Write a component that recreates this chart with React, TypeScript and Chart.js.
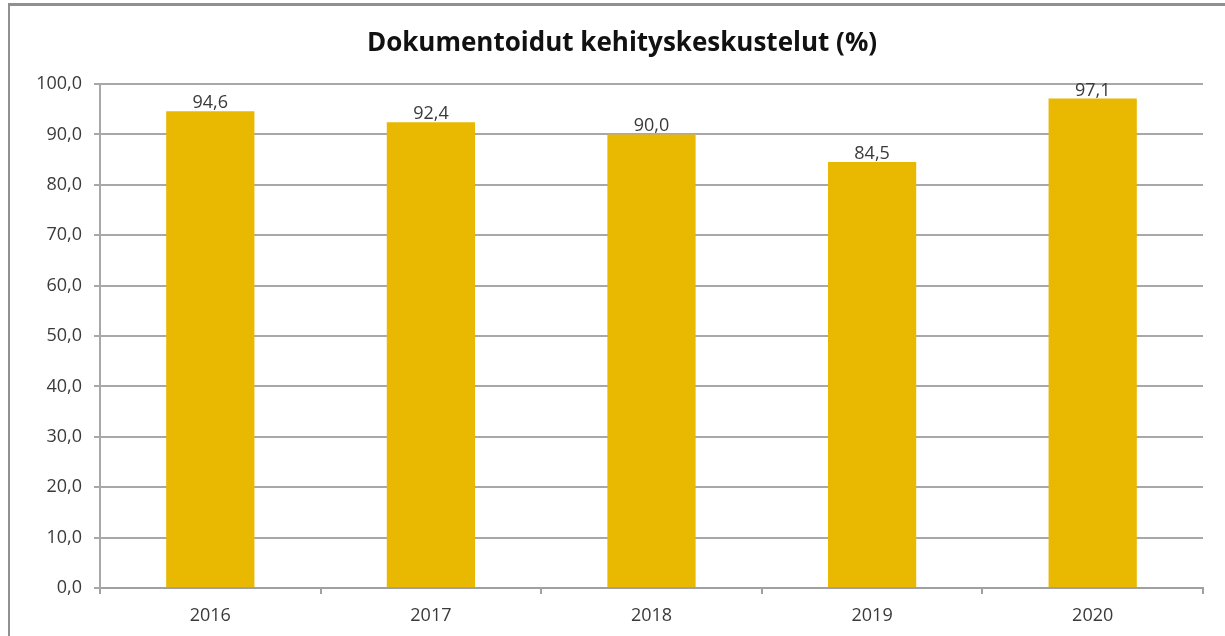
import React, { useEffect, useRef } from "react";
import { Chart, registerables } from "chart.js";

Chart.register(...registerables);

const TITLE = "Dokumentoidut kehityskeskustelut (%)";
const YEARS = ["2016", "2017", "2018", "2019", "2020"];
const VALUES = [94.6, 92.4, 90.0, 84.5, 97.1];
const Y_MIN = 0;
const Y_MAX = 100;
const Y_STEP = 10;

const fmt = (v: number) => v.toFixed(1).replace(".", ",");

const labelPlugin = {
  id: "valueLabels",
  afterDatasetsDraw(chart: any) {
    const ctx = chart.ctx;
    const meta = chart.getDatasetMeta(0);
    ctx.save();
    ctx.font = "18px 'Open Sans', sans-serif";
    ctx.fillStyle = "#3a3a3a";
    ctx.textAlign = "center";
    ctx.textBaseline = "alphabetic";
    meta.data.forEach((bar: any, i: number) => {
      ctx.fillText(fmt(VALUES[i]), bar.x, bar.y - 3);
    });
    ctx.restore();
  },
};

const titlePlugin = {
  id: "frameTitle",
  afterDraw(chart: any) {
    const ctx = chart.ctx;
    ctx.save();
    ctx.font = "bold 26px 'Open Sans', sans-serif";
    ctx.fillStyle = "#111";
    ctx.textAlign = "center";
    ctx.textBaseline = "middle";
    ctx.fillText(TITLE, 622, 44);
    ctx.restore();
  },
};

export default function App() {
  const ref = useRef<HTMLCanvasElement>(null);
  useEffect(() => {
    if (!ref.current) return;
    const chart = new Chart(ref.current, {
      type: "bar",
      data: {
        labels: YEARS,
        datasets: [
          {
            data: VALUES,
            backgroundColor: "#E8B900",
            barPercentage: 0.4,
            categoryPercentage: 1,
          },
        ],
      },
      options: {
        animation: false,
        responsive: true,
        maintainAspectRatio: false,
        layout: { padding: { left: 0, right: 22, top: 84, bottom: 0 } },
        plugins: {
          legend: { display: false },
          tooltip: { enabled: false },
          title: { display: false },
        },
        scales: {
          x: {
            offset: true,
            grid: {
              offset: true,
              drawOnChartArea: false,
              drawTicks: true,
              tickLength: 6,
              color: "#a0a0a0",
              lineWidth: 2,
            },
            border: { color: "#a0a0a0", width: 2 },
            ticks: {
              color: "#3a3a3a",
              font: { family: "'Open Sans', sans-serif", size: 18 },
              padding: 11,
            },
            afterFit: (s: any) => {
              s.height = 48;
            },
          },
          y: {
            min: Y_MIN,
            max: Y_MAX,
            ticks: {
              stepSize: Y_STEP,
              callback: (v: any) => fmt(Number(v)),
              color: "#3a3a3a",
              font: { family: "'Open Sans', sans-serif", size: 18 },
              padding: 12,
            },
            grid: {
              color: "#a8a8a8",
              lineWidth: 2,
              tickLength: 6,
            },
            border: { color: "#a8a8a8", width: 2 },
            afterFit: (s: any) => {
              s.width = 100;
            },
          },
        },
      },
      plugins: [labelPlugin, titlePlugin],
    });
    return () => chart.destroy();
  }, []);

  return (
    <div style={{ position: "absolute", left: 0, top: 0, width: 1225, height: 636, background: "#fff" }}>
      <canvas ref={ref} />
      <div
        style={{
          position: "absolute",
          left: 8,
          top: 3,
          width: 1217,
          height: 633,
          borderTop: "3px solid #909090",
          borderLeft: "2px solid #909090",
          boxSizing: "border-box",
          pointerEvents: "none",
        }}
      />
    </div>
  );
}
